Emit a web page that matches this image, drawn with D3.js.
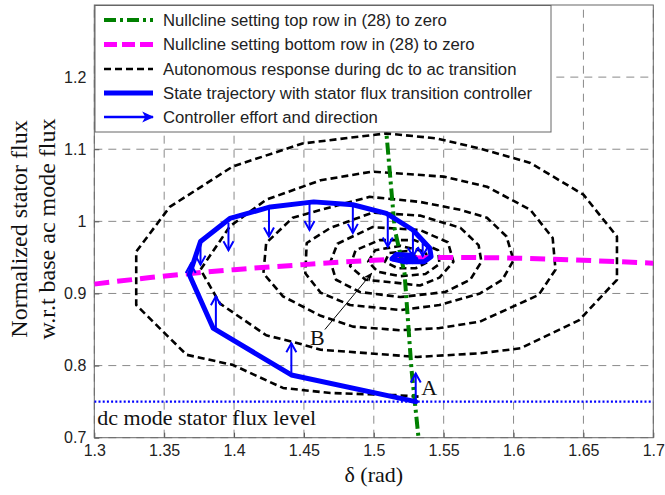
<!DOCTYPE html>
<html>
<head>
<meta charset="utf-8">
<script src="https://cdn.jsdelivr.net/npm/d3@7"></script>
<style>
  html, body { margin: 0; padding: 0; background: #fff; }
  svg { display: block; }
</style>
</head>
<body>
<svg id="chart" width="665" height="495"></svg>
<script>
// ---- data ---------------------------------------------------------------
const xTicks = [1.3, 1.35, 1.4, 1.45, 1.5, 1.55, 1.6, 1.65, 1.7];
const yTicks = [0.7, 0.8, 0.9, 1.0, 1.1, 1.2];
const xTickLabels = ["1.3", "1.35", "1.4", "1.45", "1.5", "1.55", "1.6", "1.65", "1.7"];
const yTickLabels = ["0.7", "0.8", "0.9", "1", "1.1", "1.2"];

// nullcline from the top row of (28)
const nullTop = [[1.503, 1.30], [1.509, 1.123], [1.515, 0.989], [1.522, 0.928], [1.527, 0.794], [1.532, 0.70]];
// nullcline from the bottom row of (28)
const nullBottom = [[1.30, 0.913], [1.34, 0.922], [1.40, 0.933], [1.45, 0.940], [1.50, 0.946],
  [1.55, 0.950], [1.60, 0.949], [1.65, 0.946], [1.70, 0.942]];

// autonomous response (dc -> ac), spiralling into the equilibrium
const autonomous = [
  [1.532, 0.757], [1.516, 0.759], [1.469, 0.762], [1.435, 0.769], [1.399, 0.801], [1.366, 0.815],
  [1.330, 0.884], [1.330, 0.958], [1.354, 1.020], [1.399, 1.076], [1.449, 1.108], [1.509, 1.122],
  [1.545, 1.115], [1.576, 1.101], [1.612, 1.081], [1.650, 1.037], [1.674, 0.979], [1.674, 0.919],
  [1.647, 0.863], [1.605, 0.824], [1.576, 0.817],
  [1.531, 0.812], [1.462, 0.822], [1.442, 0.833], [1.423, 0.842], [1.390, 0.886], [1.376, 0.933],
  [1.397, 0.993], [1.423, 1.030], [1.462, 1.057], [1.499, 1.069], [1.550, 1.062], [1.581, 1.048],
  [1.612, 1.016], [1.628, 0.977], [1.630, 0.933], [1.618, 0.898], [1.576, 0.861],
  [1.547, 0.852], [1.519, 0.849], [1.485, 0.854], [1.462, 0.869], [1.435, 0.896], [1.421, 0.928],
  [1.423, 0.970], [1.442, 1.005], [1.462, 1.016], [1.497, 1.034], [1.533, 1.027], [1.562, 1.016],
  [1.581, 1.005], [1.595, 0.979], [1.600, 0.946], [1.592, 0.919], [1.576, 0.900],
  [1.547, 0.884], [1.519, 0.877], [1.483, 0.884], [1.462, 0.901], [1.451, 0.928], [1.452, 0.970],
  [1.469, 0.991], [1.499, 1.012], [1.533, 1.008], [1.562, 0.991], [1.575, 0.967], [1.577, 0.944],
  [1.569, 0.919], [1.551, 0.902],
  [1.519, 0.895], [1.490, 0.902], [1.473, 0.919], [1.469, 0.944], [1.474, 0.969], [1.499, 0.992],
  [1.533, 0.988], [1.553, 0.971], [1.557, 0.944], [1.547, 0.922], [1.533, 0.911],
  [1.515, 0.915], [1.494, 0.919], [1.483, 0.938], [1.487, 0.960], [1.504, 0.974], [1.529, 0.974],
  [1.546, 0.960], [1.547, 0.941], [1.537, 0.927],
  [1.519, 0.924], [1.503, 0.930], [1.496, 0.944], [1.501, 0.960], [1.519, 0.966], [1.537, 0.958],
  [1.539, 0.944], [1.530, 0.935],
  [1.517, 0.935], [1.508, 0.944], [1.511, 0.956], [1.524, 0.959], [1.532, 0.949], [1.526, 0.941],
  [1.519, 0.944], [1.517, 0.951], [1.522, 0.954], [1.526, 0.948], [1.522, 0.945], [1.520, 0.950]
];

// state trajectory with the stator flux transition controller
const trajectory = [
  [1.530, 0.750], [1.441, 0.787], [1.385, 0.852], [1.368, 0.926], [1.376, 0.972], [1.397, 1.004],
  [1.426, 1.020], [1.457, 1.027], [1.485, 1.023], [1.509, 1.011], [1.528, 0.988], [1.540, 0.963],
  [1.541, 0.951], [1.536, 0.944], [1.522, 0.944], [1.513, 0.948], [1.516, 0.954], [1.526, 0.953],
  [1.530, 0.948], [1.520, 0.947]
];

// controller effort: [delta, flux from, flux to]
const effort = [
  [1.530, 0.750, 0.789], [1.441, 0.787, 0.831], [1.387, 0.852, 0.896], [1.369, 0.926, 0.941],
  [1.376, 0.972, 0.940], [1.396, 0.998, 0.960], [1.425, 1.020, 0.979], [1.454, 1.027, 0.988],
  [1.485, 1.023, 0.984], [1.510, 1.011, 0.965], [1.528, 0.988, 0.951], [1.535, 0.972, 0.952]
];

const dcLevel = 0.75;
const labelA = [1.5325, 0.776];
const labelB = [1.4615, 0.837];
const pointerB = [[1.465, 0.850], [1.4985, 0.928]];

const legendItems = [
  "Nullcline setting top row in (28) to zero",
  "Nullcline setting bottom row in (28) to zero",
  "Autonomous response during dc to ac transition",
  "State trajectory with stator flux transition controller",
  "Controller effort and direction"
];

// ---- layout -------------------------------------------------------------
const svg = d3.select("#chart");
const x = d3.scaleLinear().domain([1.3, 1.7]).range([94.3, 653.3]);
const y = d3.scaleLinear().domain([0.7, 1.3]).range([437.7, 5]);
const line = d3.line().x(d => x(d[0])).y(d => y(d[1]));

const sans = "Arial, 'Liberation Sans', sans-serif";
const serif = "'Times New Roman', 'Liberation Serif', serif";

const defs = svg.append("defs");
defs.append("clipPath").attr("id", "plotClip")
  .append("rect").attr("x", x(1.3)).attr("y", y(1.3))
  .attr("width", x(1.7) - x(1.3)).attr("height", y(0.7) - y(1.3));
defs.append("marker").attr("id", "blackHead").attr("viewBox", "0 0 10 10")
  .attr("refX", 9).attr("refY", 5).attr("markerWidth", 9).attr("markerHeight", 9)
  .attr("markerUnits", "userSpaceOnUse").attr("orient", "auto")
  .append("path").attr("d", "M0,1 L10,5 L0,9 L3,5 Z").attr("fill", "#000");
defs.append("marker").attr("id", "blueHead").attr("viewBox", "0 0 10 10")
  .attr("refX", 9).attr("refY", 5).attr("markerWidth", 12).attr("markerHeight", 12)
  .attr("markerUnits", "userSpaceOnUse").attr("orient", "auto")
  .append("path").attr("d", "M0,0.5 L10,5 L0,9.5 L2.5,5 Z").attr("fill", "#0000ff");

// grid (dashed, at every tick)
const grid = svg.append("g").attr("stroke", "#8a8a8a").attr("stroke-width", 1)
  .attr("stroke-dasharray", "8,6");
grid.selectAll("line.v").data(xTicks).join("line")
  .attr("x1", d => x(d)).attr("x2", d => x(d)).attr("y1", y(0.7)).attr("y2", y(1.3));
grid.selectAll("line.h").data(yTicks).join("line")
  .attr("x1", x(1.3)).attr("x2", x(1.7)).attr("y1", d => y(d)).attr("y2", d => y(d));

// axes with inward ticks
const xAxis = d3.axisBottom(x).tickValues(xTicks).tickSize(-5)
  .tickFormat((d, i) => xTickLabels[i]).tickPadding(7);
const yAxis = d3.axisLeft(y).tickValues(yTicks).tickSize(-5)
  .tickFormat((d, i) => yTickLabels[i]).tickPadding(8);
const gx = svg.append("g").attr("transform", `translate(0,${y(0.7)})`).call(xAxis);
const gy = svg.append("g").attr("transform", `translate(${x(1.3)},0)`).call(yAxis);
[gx, gy].forEach(g => {
  g.select(".domain").remove();
  g.selectAll(".tick line").attr("stroke", "#555");
  g.selectAll("text").attr("font-family", sans).attr("font-size", 16).attr("fill", "#222");
});
// box
svg.append("rect").attr("x", x(1.3)).attr("y", y(1.3))
  .attr("width", x(1.7) - x(1.3)).attr("height", y(0.7) - y(1.3))
  .attr("fill", "none").attr("stroke", "#666").attr("stroke-width", 1);

const plot = svg.append("g").attr("clip-path", "url(#plotClip)");

// dc level
plot.append("line").attr("x1", x(1.3)).attr("x2", x(1.7))
  .attr("y1", y(dcLevel)).attr("y2", y(dcLevel))
  .attr("stroke", "#0000ff").attr("stroke-width", 2.2).attr("stroke-dasharray", "2,2.2");

// autonomous response
plot.append("path").datum(autonomous).attr("d", line)
  .attr("fill", "none").attr("stroke", "#000").attr("stroke-width", 2.6)
  .attr("stroke-dasharray", "7,4").attr("stroke-linejoin", "round");

// nullclines
plot.append("path").datum(nullBottom).attr("d", line.curve(d3.curveMonotoneX))
  .attr("fill", "none").attr("stroke", "#ff00ff").attr("stroke-width", 5)
  .attr("stroke-dasharray", "15,8");
line.curve(d3.curveLinear);
plot.append("path").datum(nullTop).attr("d", line)
  .attr("fill", "none").attr("stroke", "#008000").attr("stroke-width", 4)
  .attr("stroke-dasharray", "12,4,3,4");

// trajectory
plot.append("path").datum(trajectory).attr("d", line)
  .attr("fill", "none").attr("stroke", "#0000ff").attr("stroke-width", 5)
  .attr("stroke-linejoin", "round").attr("stroke-linecap", "round");

// controller effort arrows with open heads
const eff = plot.append("g").attr("stroke", "#0000ff").attr("stroke-width", 2).attr("fill", "none");
effort.forEach(([d, f0, f1]) => {
  const px = x(d), y0 = y(f0), y1 = y(f1);
  const dir = y1 < y0 ? 1 : -1;
  eff.append("line").attr("x1", px).attr("x2", px).attr("y1", y0).attr("y2", y1);
  eff.append("path").attr("d", `M${px - 5},${y1 + dir * 9} L${px},${y1} L${px + 5},${y1 + dir * 9}`);
});

// pointer to B
svg.append("line")
  .attr("x1", x(pointerB[0][0])).attr("y1", y(pointerB[0][1]))
  .attr("x2", x(pointerB[1][0])).attr("y2", y(pointerB[1][1]))
  .attr("stroke", "#000").attr("stroke-width", 1).attr("marker-end", "url(#blackHead)");

// annotations
svg.append("text").attr("x", x(labelA[0]) + 2).attr("y", y(labelA[1]) + 12)
  .attr("font-family", serif).attr("font-size", 22).attr("fill", "#111").text("A");
svg.append("text").attr("x", x(labelB[0]) - 10).attr("y", y(labelB[1]) + 6)
  .attr("font-family", serif).attr("font-size", 22).attr("fill", "#111").text("B");
svg.append("text").attr("x", x(1.3) + 3).attr("y", 425)
  .attr("font-family", serif).attr("font-size", 22).attr("fill", "#111")
  .text("dc mode stator flux level");

// axis titles
svg.append("text").attr("x", (x(1.3) + x(1.7)) / 2).attr("y", 482)
  .attr("text-anchor", "middle").attr("font-family", serif).attr("font-size", 22)
  .attr("fill", "#111").text("δ (rad)");
const yt = svg.append("text").attr("transform", "translate(27,229) rotate(-90)")
  .attr("text-anchor", "middle").attr("font-family", serif).attr("font-size", 24).attr("fill", "#111");
yt.append("tspan").attr("x", 0).attr("y", 0).text("Normalized stator flux");
yt.append("tspan").attr("x", 0).attr("y", 28).text("w.r.t base ac mode flux");

// legend
const lg = svg.append("g");
lg.append("rect").attr("x", 95).attr("y", 5.5).attr("width", 456).attr("height", 126.5)
  .attr("fill", "#fff").attr("stroke", "#666").attr("stroke-width", 1);
const rowY = [20, 44.5, 69, 93, 117];
const sx0 = 104, sx1 = 153;
const samples = [
  g => g.append("line").attr("stroke", "#008000").attr("stroke-width", 4).attr("stroke-dasharray", "12,4,3,4"),
  g => g.append("line").attr("stroke", "#ff00ff").attr("stroke-width", 5).attr("stroke-dasharray", "13,5"),
  g => g.append("line").attr("stroke", "#000").attr("stroke-width", 2.6).attr("stroke-dasharray", "7,4"),
  g => g.append("line").attr("stroke", "#0000ff").attr("stroke-width", 5),
  g => g.append("line").attr("stroke", "#0000ff").attr("stroke-width", 2.5).attr("marker-end", "url(#blueHead)")
];
legendItems.forEach((t, i) => {
  const g = lg.append("g");
  samples[i](g).attr("x1", sx0).attr("x2", sx1).attr("y1", rowY[i]).attr("y2", rowY[i]);
  g.append("text").attr("x", 163).attr("y", rowY[i]).attr("dy", "0.35em")
    .attr("font-family", sans).attr("font-size", 16.7).attr("fill", "#222").text(t);
});
</script>
</body>
</html>
